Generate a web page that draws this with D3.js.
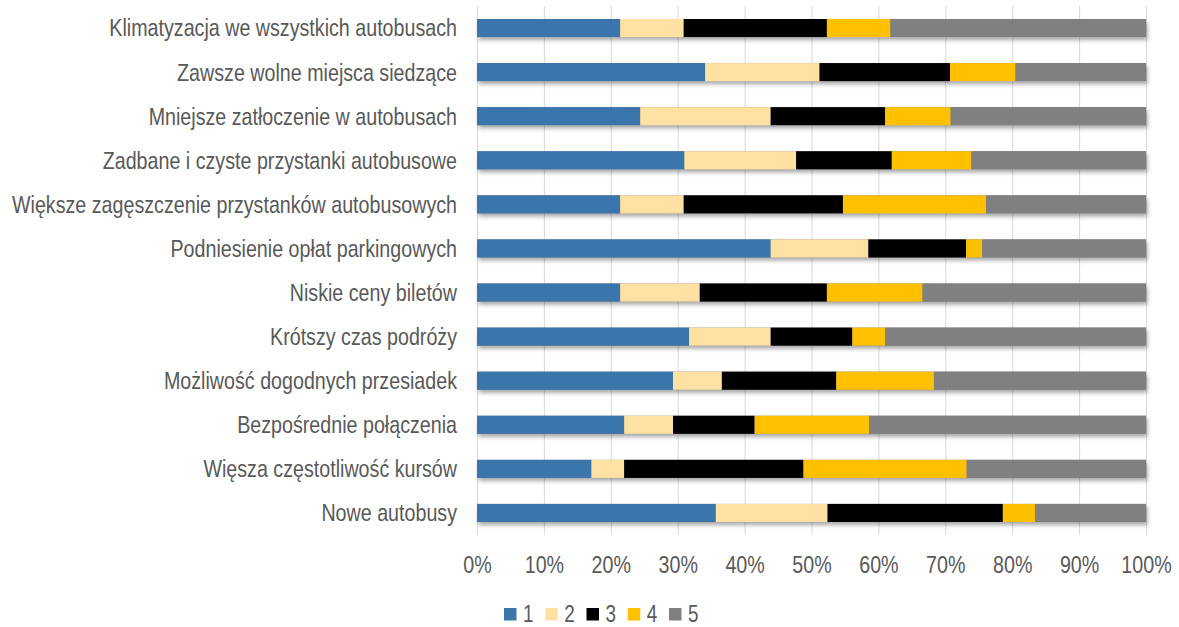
<!DOCTYPE html>
<html>
<head>
<meta charset="utf-8">
<script src="https://cdn.jsdelivr.net/npm/d3@7"></script>
<style>
  body { margin: 0; background: #fff; }
  svg { display: block; font-family: "Liberation Sans", Arial, sans-serif; }
</style>
</head>
<body>
<svg id="chart"></svg>
<script>
// kategorie (od góry)
const categories = [
  'Klimatyzacja we wszystkich autobusach',
  'Zawsze wolne miejsca siedzące',
  'Mniejsze zatłoczenie w autobusach',
  'Zadbane i czyste przystanki autobusowe',
  'Większe zagęszczenie przystanków autobusowych',
  'Podniesienie opłat parkingowych',
  'Niskie ceny biletów',
  'Krótszy czas podróży',
  'Możliwość dogodnych przesiadek',
  'Bezpośrednie połączenia',
  'Więsza częstotliwość kursów',
  'Nowe autobusy'
];

const seriesNames = ['1', '2', '3', '4', '5'];

// udziały odpowiedzi w %
const s1 = [21.4, 34.1, 24.4, 31.0, 21.4, 43.9, 21.4, 31.7, 29.3, 22.0, 17.1, 35.7];
const s2 = [ 9.5, 17.1, 19.5, 16.7,  9.5, 14.6, 11.9, 12.2,  7.3,  7.3,  4.9, 16.7];
const s3 = [21.4, 19.5, 17.1, 14.3, 23.8, 14.6, 19.0, 12.2, 17.1, 12.2, 26.8, 26.2];
const s4 = [ 9.5,  9.8,  9.8, 11.9, 21.4,  2.4, 14.3,  4.9, 14.6, 17.1, 24.4,  4.8];
const s5 = [38.2, 19.5, 29.2, 26.1, 23.9, 24.5, 33.4, 39.0, 31.7, 41.4, 26.8, 16.6];

const ticks = [0, 10, 20, 30, 40, 50, 60, 70, 80, 90, 100];

const colors = ['#3A75AB', '#FFE1A4', '#000000', '#FFC000', '#808080'];

const width = 1179, height = 627;
const margin = {top: 6, right: 33, bottom: 92, left: 477};
const fontSize = 24;
const narrow = 0.82; // brak Arial Narrow – ściskamy tekst w poziomie

const table = categories.map((c, i) => ({
  cat: c, '1': s1[i], '2': s2[i], '3': s3[i], '4': s4[i], '5': s5[i]
}));
const stack = d3.stack().keys(seriesNames).offset(d3.stackOffsetExpand);
const layers = stack(table);

const svg = d3.select('#chart').attr('width', width).attr('height', height);

const defs = svg.append('defs');
const flt = defs.append('filter').attr('id', 'shadow')
  .attr('x', '-5%').attr('y', '-30%').attr('width', '110%').attr('height', '190%');
flt.append('feDropShadow')
  .attr('dx', 1.5).attr('dy', 3).attr('stdDeviation', 2.2)
  .attr('flood-color', '#000').attr('flood-opacity', 0.35);

const x = d3.scaleLinear().domain([0, 1]).range([margin.left, width - margin.right]);
const y = d3.scaleBand().domain(categories)
  .range([margin.top, height - margin.bottom])
  .paddingInner(0.59).paddingOuter(0.295);

// pionowe linie siatki
svg.append('g')
  .selectAll('line')
  .data(ticks)
  .join('line')
  .attr('x1', d => x(d / 100) + 0.5).attr('x2', d => x(d / 100) + 0.5)
  .attr('y1', margin.top).attr('y2', height - margin.bottom)
  .attr('stroke', '#D9D9D9').attr('stroke-width', 1);

// słupki z cieniem
const bars = svg.append('g');
bars.append('g').attr('filter', 'url(#shadow)')
  .selectAll('rect')
  .data(categories)
  .join('rect')
  .attr('x', x(0)).attr('width', x(1) - x(0))
  .attr('y', d => y(d)).attr('height', y.bandwidth())
  .attr('fill', '#808080');

bars.selectAll('g.layer')
  .data(layers)
  .join('g')
  .attr('class', 'layer')
  .attr('fill', (d, i) => colors[i])
  .selectAll('rect')
  .data(d => d)
  .join('rect')
  .attr('x', d => x(d[0]))
  .attr('width', d => x(d[1]) - x(d[0]))
  .attr('y', d => y(d.data.cat))
  .attr('height', y.bandwidth());

// etykiety kategorii
svg.append('g')
  .selectAll('text')
  .data(categories)
  .join('text')
  .attr('transform', d => `translate(${margin.left - 20}, ${y(d) + y.bandwidth() / 2}) scale(${narrow}, 1)`)
  .attr('dy', '0.35em')
  .attr('text-anchor', 'end')
  .attr('fill', '#595959')
  .style('font-size', fontSize + 'px')
  .text(d => d);

// oś X
const xAxis = d3.axisBottom(x)
  .tickValues(ticks.map(t => t / 100))
  .tickFormat(d3.format('.0%'))
  .tickSize(0).tickPadding(0);
const ax = svg.append('g')
  .attr('transform', `translate(0, 573)`)
  .call(xAxis);
ax.select('.domain').remove();
ax.selectAll('text')
  .attr('y', 0).attr('dy', 0)
  .attr('transform', `scale(${narrow}, 1)`)
  .attr('fill', '#595959')
  .style('font-size', fontSize + 'px')
  .style('font-family', '"Liberation Sans", Arial, sans-serif');
ax.selectAll('.tick')
  .attr('transform', d => `translate(${x(d) + 0.5}, 0)`);

// legenda
const legend = svg.append('g').attr('transform', 'translate(504, 608)');
const item = legend.selectAll('g')
  .data(seriesNames)
  .join('g')
  .attr('transform', (d, i) => `translate(${i * 41.25}, 0)`);
item.append('rect')
  .attr('width', 12.5).attr('height', 12.5)
  .attr('fill', (d, i) => colors[i]);
item.append('text')
  .attr('transform', `translate(19, 13.5) scale(${narrow}, 1)`)
  .attr('fill', '#595959')
  .style('font-size', '23px')
  .text(d => d);
</script>
</body>
</html>
